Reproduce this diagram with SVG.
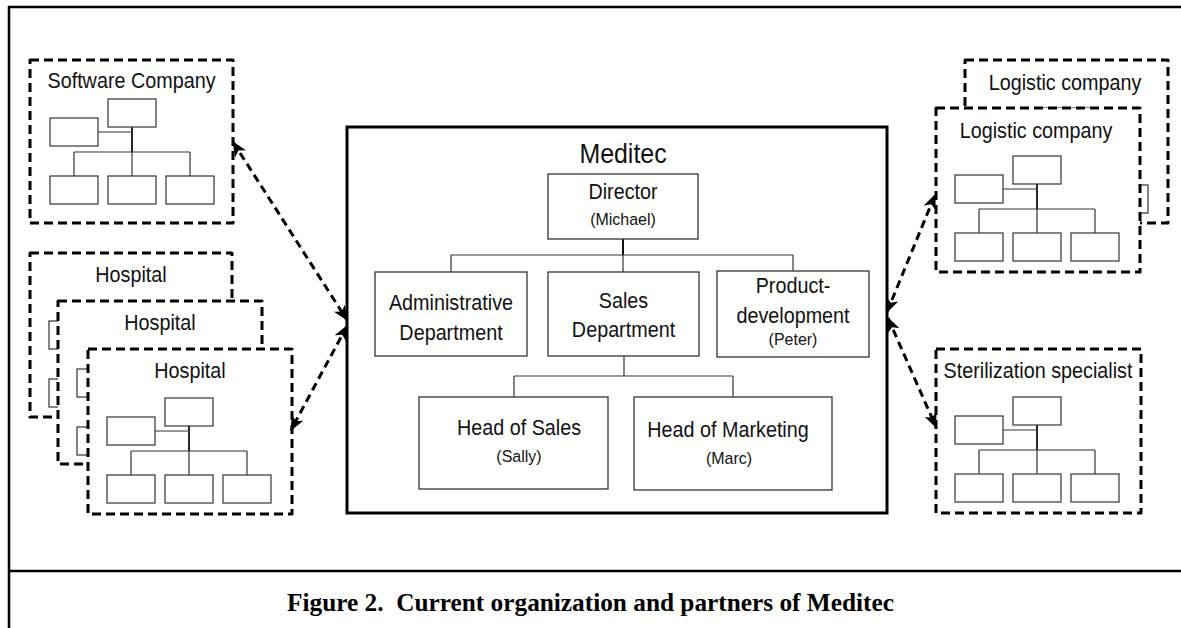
<svg xmlns="http://www.w3.org/2000/svg" width="1181" height="628" viewBox="0 0 1181 628">
<style>
.frame{stroke:#000;stroke-width:2.5;fill:none}
.pbox{fill:#fff;stroke:#000;stroke-width:3;stroke-dasharray:9 5;stroke-linejoin:round}
.mini rect{fill:#fff;stroke:#333;stroke-width:1.2}
.mini line{stroke:#333;stroke-width:1.2}
.mini .stem{stroke:#111;stroke-width:1.8}
.main{fill:#fff;stroke:#000;stroke-width:3}
.node{fill:#fff;stroke:#333;stroke-width:1.3}
.org{stroke:#333;stroke-width:1.2;fill:none}
.t{font-family:"Liberation Sans",Arial,sans-serif;fill:#111;text-anchor:middle}
.t20{font-size:21.5px}
.t16{font-size:17px}
.t26{font-size:28px}
.cap{font-family:"Liberation Serif","Times New Roman",serif;font-weight:bold;font-size:25.3px;fill:#000;text-anchor:middle}
.conn{stroke:#000;stroke-width:3;stroke-dasharray:8 5;fill:none;marker-start:url(#ah);marker-end:url(#ah)}
</style>
<defs>
<marker id="ah" viewBox="0 0 15 13" refX="14" refY="6.5" markerWidth="15" markerHeight="13" markerUnits="userSpaceOnUse" orient="auto-start-reverse">
<path d="M0,0 L15,6.5 L0,13 L4,6.5 Z" fill="#000"/>
</marker>
<g id="mini" class="mini">
<line x1="82" y1="28" x2="82" y2="53" class="stem"/>
<line x1="82" y1="53" x2="82" y2="77"/>
<line x1="48" y1="33" x2="82" y2="33"/>
<line x1="24" y1="53" x2="140" y2="53"/>
<line x1="24" y1="53" x2="24" y2="77"/>
<line x1="140" y1="53" x2="140" y2="77"/>
<rect x="58" y="0" width="48" height="28"/>
<rect x="0" y="19" width="48" height="28"/>
<rect x="0" y="77" width="48" height="28"/>
<rect x="58" y="77" width="48" height="28"/>
<rect x="116" y="77" width="48" height="28"/>
</g>
</defs>
<rect x="0" y="0" width="1181" height="628" fill="#fff"/>
<g id="frame">
<line class="frame" x1="8" y1="7" x2="1181" y2="7"/>
<line class="frame" x1="9" y1="6" x2="9" y2="628"/>
<line class="frame" x1="8" y1="571" x2="1181" y2="571"/>
<text class="cap" x="590.5" y="611">Figure 2.&#160; Current organization and partners of Meditec</text>
</g>
<g id="software-company">
<rect class="pbox" x="30" y="60" width="203" height="163"/>
<text class="t t20" transform="translate(131.5,88) scale(0.92,1)">Software Company</text>
<use href="#mini" x="50" y="99"/>
</g>
<g id="hospital-1">
<rect class="pbox" x="30" y="253" width="202" height="164"/>
<text class="t t20" transform="translate(131,282) scale(0.92,1)">Hospital</text>
<use href="#mini" x="49" y="302"/>
</g>
<g id="hospital-2">
<rect class="pbox" x="58" y="301" width="204" height="163"/>
<text class="t t20" transform="translate(160,330) scale(0.92,1)">Hospital</text>
<use href="#mini" x="77" y="350"/>
</g>
<g id="hospital-3">
<rect class="pbox" x="88" y="349" width="204" height="165"/>
<text class="t t20" transform="translate(190,378) scale(0.92,1)">Hospital</text>
<use href="#mini" x="107" y="398"/>
</g>
<g id="logistic-1">
<rect class="pbox" x="965" y="60" width="203" height="163"/>
<text class="t t20" transform="translate(1065,90) scale(0.92,1)">Logistic company</text>
<use href="#mini" x="984" y="108"/>
</g>
<g id="logistic-2">
<rect class="pbox" x="936" y="108" width="204" height="164"/>
<text class="t t20" transform="translate(1036,138) scale(0.92,1)">Logistic company</text>
<use href="#mini" x="955" y="156"/>
</g>
<g id="sterilization">
<rect class="pbox" x="936" y="349" width="205" height="164"/>
<text class="t t20" transform="translate(1038,378) scale(0.92,1)">Sterilization specialist</text>
<use href="#mini" x="955" y="397"/>
</g>
<g id="meditec">
<rect class="main" x="347" y="127" width="540" height="386"/>
<text class="t t26" transform="translate(623,163) scale(0.89,1)">Meditec</text>
</g>
<g id="org-connectors">
<line class="org" x1="623" y1="239" x2="623" y2="255" style="stroke-width:2;stroke:#111"/>
<line class="org" x1="623" y1="255" x2="623" y2="272"/>
<line class="org" x1="451" y1="255" x2="793" y2="255"/>
<line class="org" x1="451" y1="255" x2="451" y2="272"/>
<line class="org" x1="793" y1="255" x2="793" y2="271"/>
<line class="org" x1="624" y1="356" x2="624" y2="376"/>
<line class="org" x1="514" y1="376" x2="733" y2="376"/>
<line class="org" x1="514" y1="376" x2="514" y2="397"/>
<line class="org" x1="733" y1="376" x2="733" y2="397"/>
</g>
<g id="director">
<rect class="node" x="548" y="174" width="150" height="65"/>
<text class="t t20" transform="translate(623,199) scale(0.92,1)">Director</text>
<text class="t t16" transform="translate(623,225) scale(0.94,1)">(Michael)</text>
</g>
<g id="administrative">
<rect class="node" x="375" y="272" width="152" height="84"/>
<text class="t t20" transform="translate(451,310) scale(0.92,1)">Administrative</text>
<text class="t t20" transform="translate(451,340) scale(0.92,1)">Department</text>
</g>
<g id="sales">
<rect class="node" x="548" y="272" width="151" height="84"/>
<text class="t t20" transform="translate(623.5,308) scale(0.92,1)">Sales</text>
<text class="t t20" transform="translate(623.5,337) scale(0.92,1)">Department</text>
</g>
<g id="product-development">
<rect class="node" x="717" y="271" width="152" height="86"/>
<text class="t t20" transform="translate(793,293) scale(0.92,1)">Product-</text>
<text class="t t20" transform="translate(793,323) scale(0.92,1)">development</text>
<text class="t t16" transform="translate(793,345) scale(0.94,1)">(Peter)</text>
</g>
<g id="head-of-sales">
<rect class="node" x="419" y="397" width="189" height="92"/>
<text class="t t20" transform="translate(519,435) scale(0.92,1)">Head of Sales</text>
<text class="t t16" transform="translate(519,462) scale(0.94,1)">(Sally)</text>
</g>
<g id="head-of-marketing">
<rect class="node" x="634" y="397" width="198" height="93"/>
<text class="t t20" transform="translate(728,437) scale(0.92,1)">Head of Marketing</text>
<text class="t t16" transform="translate(729,464) scale(0.94,1)">(Marc)</text>
</g>
<g id="connectors">
<line class="conn" x1="233" y1="142" x2="347" y2="320"/>
<line class="conn" x1="347" y1="326" x2="291" y2="430"/>
<line class="conn" x1="887" y1="312" x2="935" y2="195"/>
<line class="conn" x1="888" y1="318" x2="936" y2="427"/>
</g>
</svg>
